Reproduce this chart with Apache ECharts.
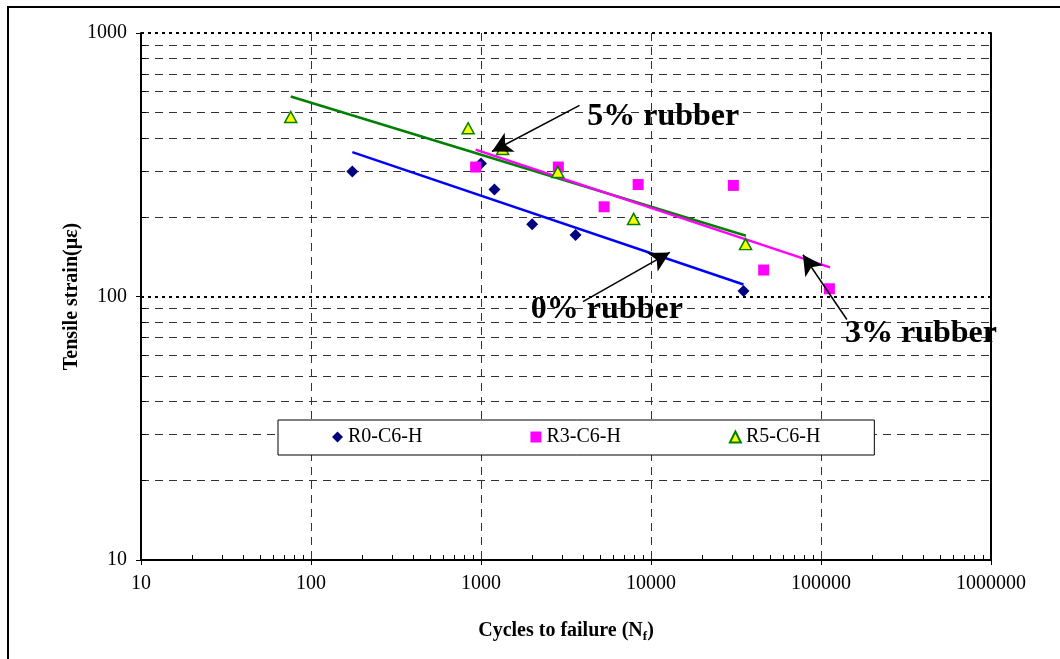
<!DOCTYPE html>
<html>
<head>
<meta charset="utf-8">
<script src="https://cdn.jsdelivr.net/npm/echarts@6.0.0/dist/echarts.min.js"></script>
<style>
  html, body { margin: 0; padding: 0; background: #fff; }
  #main { width: 1060px; height: 659px; }
</style>
</head>
<body>
<div id="main"></div>
<script>
// measured points (cycles, strain)
var r0Cycles = [175, 1000, 1200, 2000, 3600, 35000];
var r0Strain = [298, 320, 255, 188, 171, 105];
var r3Cycles = [930, 2850, 5300, 8400, 30500, 46000, 112000];
var r3Strain = [310, 310, 219, 266, 264, 126, 107];
var r5Cycles = [76, 840, 1340, 2830, 7900, 36000];
var r5Strain = [480, 435, 363, 297, 197, 158];

// trend lines: start and end points
var r0FitCycles = [175, 35000];
var r0FitStrain = [353, 111];
var r3FitCycles = [930, 113000];
var r3FitStrain = [361, 129];
var r5FitCycles = [76, 36200];
var r5FitStrain = [574, 170];

var seriesNames = ['R0-C6-H', 'R3-C6-H', 'R5-C6-H'];

// annotations: label, label position, arrow tail, arrow head
var noteText = ['5% rubber', '0% rubber', '3% rubber'];
var notePos = [[11800, 482], [5500, 89], [387000, 72]];
var arrowFrom = [[3800, 531], [3980, 95.7], [142000, 81.8]];
var arrowTo = [[1160, 355], [12900, 147], [78300, 144]];

function pairs(xs, ys) {
    return xs.map(function (x, i) { return [x, ys[i]]; });
}
// 2..9 times each decade between lo and hi
function minors(lo, hi) {
    var out = [];
    for (var d = lo; d < hi; d *= 10) {
        for (var k = 2; k <= 9; k++) out.push(k * d);
    }
    return out;
}

var font = 'Liberation Serif';
var myChart = echarts.init(document.getElementById('main'));

var option = {
    backgroundColor: '#fff',
    animation: false,
    textStyle: { fontFamily: font, color: '#000' },
    graphic: [{
        type: 'rect',
        shape: { x: 8, y: 7, width: 1100, height: 700 },
        style: { fill: 'none', stroke: '#000', lineWidth: 2 }
    }],
    grid: { left: 141, top: 33, right: 69, bottom: 99 },
    legend: {
        data: seriesNames,
        left: 278,
        top: 420,
        orient: 'horizontal',
        itemWidth: 11,
        itemHeight: 11,
        itemGap: 108,
        padding: [7, 54, 8, 54],
        borderColor: '#000',
        borderWidth: 1,
        borderRadius: 0,
        backgroundColor: '#fff',
        textStyle: { fontFamily: font, fontSize: 20, color: '#000' }
    },
    xAxis: [{
        type: 'log',
        logBase: 10,
        min: 10,
        max: 1000000,
        name: '{a|Cycles to failure (N}{s|f}{a|)}',
        nameLocation: 'middle',
        nameGap: 58,
        nameTextStyle: {
            rich: {
                a: { fontFamily: font, fontSize: 20, fontWeight: 'bold', color: '#000' },
                s: { fontFamily: font, fontSize: 13, fontWeight: 'bold', color: '#000', verticalAlign: 'bottom', padding: [12, 0, 0, 0] }
            }
        },
        axisLine: { show: true, lineStyle: { color: '#000', width: 2 } },
        axisTick: { show: true, inside: false, length: 5, lineStyle: { color: '#000' } },
        axisLabel: {
            margin: 14,
            fontFamily: font,
            fontSize: 20,
            color: '#000',
            formatter: function (v) { return String(Math.round(v)); }
        },
        splitLine: { show: true, lineStyle: { color: '#333', type: [8, 6], width: 1 } }
    }, {
        type: 'log',
        logBase: 10,
        min: 10,
        max: 1000000,
        position: 'bottom',
        axisLine: { show: false },
        axisLabel: { show: false },
        axisTick: { show: true, inside: true, length: 5, customValues: minors(10, 1000000), lineStyle: { color: '#000' } },
        splitLine: { show: false }
    }],
    yAxis: [{
        type: 'log',
        logBase: 10,
        min: 10,
        max: 1000,
        position: 'left',
        name: 'Tensile strain(με)',
        nameLocation: 'middle',
        nameGap: 59,
        nameMoveOverlap: false,
        nameTextStyle: { fontFamily: font, fontSize: 20, fontWeight: 'bold', color: '#000' },
        axisLine: { show: true, lineStyle: { color: '#000', width: 2 } },
        axisTick: { show: true, inside: false, length: 5, lineStyle: { color: '#000' } },
        axisLabel: {
            margin: 14,
            fontFamily: font,
            fontSize: 20,
            color: '#000',
            formatter: function (v) { return String(Math.round(v)); }
        },
        splitLine: { show: true, lineStyle: { color: '#000', type: [3, 4], width: 2 } }
    }, {
        type: 'log',
        logBase: 10,
        min: 10,
        max: 1000,
        position: 'left',
        axisLine: { show: false },
        axisLabel: { show: false },
        axisTick: { show: true, inside: true, length: 5, customValues: minors(10, 1000), lineStyle: { color: '#000' } },
        splitLine: { show: true, lineStyle: { color: '#333', type: [8, 6], width: 1 } }
    }, {
        type: 'log',
        logBase: 10,
        min: 10,
        max: 1000,
        position: 'right',
        axisLine: { show: true, onZero: false, lineStyle: { color: '#000', width: 2 } },
        axisLabel: { show: false },
        axisTick: { show: false },
        splitLine: { show: false }
    }],
    series: [{
        name: 'R0 fit',
        type: 'line',
        data: pairs(r0FitCycles, r0FitStrain),
        showSymbol: false,
        symbol: 'none',
        lineStyle: { color: '#0000ff', width: 2.5 },
        z: 3
    }, {
        name: 'R5 fit',
        type: 'line',
        data: pairs(r5FitCycles, r5FitStrain),
        showSymbol: false,
        symbol: 'none',
        lineStyle: { color: '#008000', width: 2.5 },
        z: 3
    }, {
        name: 'R3 fit',
        type: 'line',
        data: pairs(r3FitCycles, r3FitStrain),
        showSymbol: false,
        symbol: 'none',
        lineStyle: { color: '#ff00ff', width: 2.5 },
        z: 3,
        markLine: {
            silent: true,
            symbol: ['none', 'arrow'],
            symbolSize: [16, 20],
            label: { show: false },
            lineStyle: { color: '#000', width: 1.5, type: 'solid' },
            data: arrowFrom.map(function (p, i) {
                return [{ coord: p }, { coord: arrowTo[i] }];
            })
        },
        markPoint: {
            silent: true,
            symbol: 'circle',
            symbolSize: 0,
            label: {
                show: true,
                position: 'inside',
                fontFamily: font,
                fontSize: 32,
                fontWeight: 'bold',
                color: '#000'
            },
            data: noteText.map(function (t, i) {
                return { coord: notePos[i], value: t, label: { formatter: t } };
            })
        }
    }, {
        name: seriesNames[0],
        type: 'scatter',
        data: pairs(r0Cycles, r0Strain),
        symbol: 'diamond',
        symbolSize: 12,
        itemStyle: { color: '#000080', opacity: 1 },
        z: 4
    }, {
        name: seriesNames[1],
        type: 'scatter',
        data: pairs(r3Cycles, r3Strain),
        symbol: 'rect',
        symbolSize: 11,
        itemStyle: { color: '#ff00ff', opacity: 1 },
        z: 4
    }, {
        name: seriesNames[2],
        type: 'scatter',
        data: pairs(r5Cycles, r5Strain),
        symbol: 'triangle',
        symbolSize: [12, 11],
        itemStyle: { color: '#ffff00', borderColor: '#008000', borderWidth: 1.5, opacity: 1 },
        z: 4
    }]
};

myChart.setOption(option);
</script>
</body>
</html>
